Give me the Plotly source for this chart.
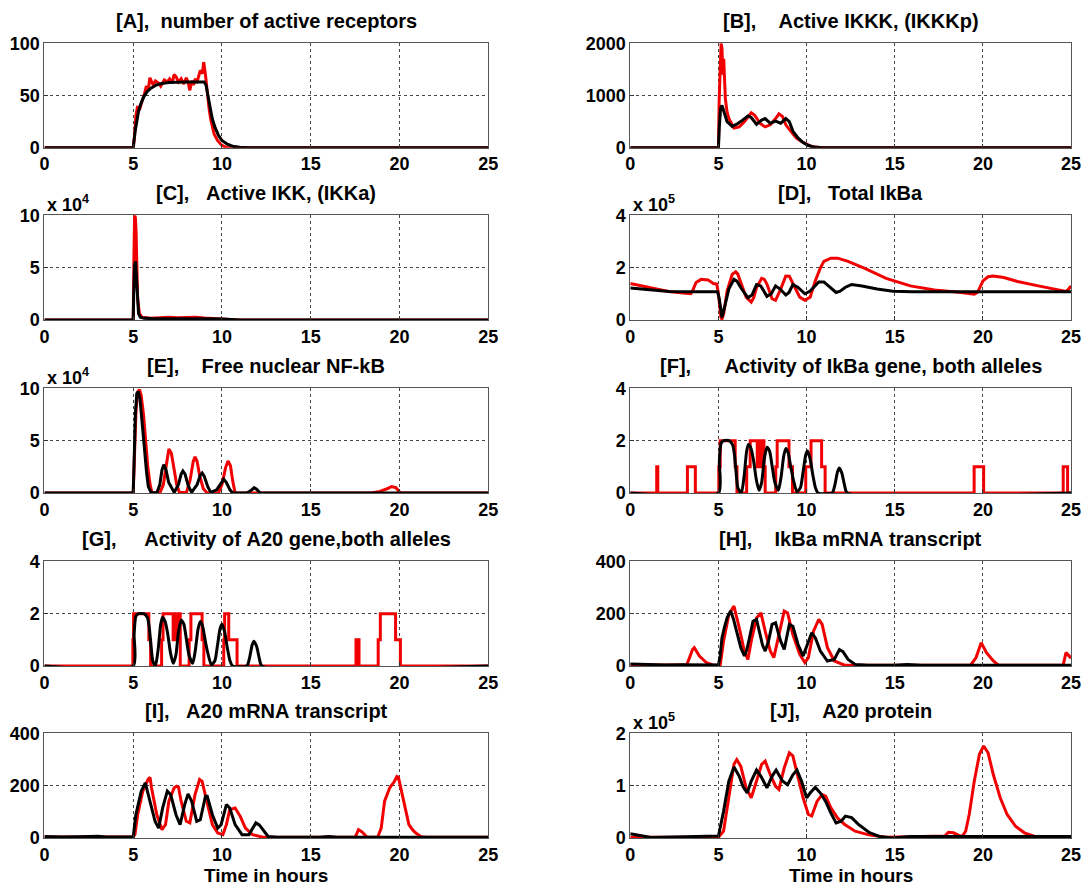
import plotly.graph_objects as go

# ---------------- data (time in hours) ----------------
A_red_t = [0, 5.0, 5.08, 5.15, 5.25, 5.35, 5.45, 5.55, 5.64, 5.74,
           5.85, 5.94, 6.05, 6.13, 6.25, 6.43, 6.55, 6.62, 6.75, 6.92,
           7.05, 7.2, 7.3, 7.41, 7.55, 7.7, 7.85, 7.99, 8.1, 8.19,
           8.3, 8.39, 8.5, 8.58, 8.7, 8.78, 8.9, 8.97, 9.07, 9.17,
           9.27, 9.37, 9.47, 9.56, 9.75, 9.95, 10.15, 10.34, 25]
A_red_v = [0, 0, 12, 31, 40, 36, 42, 47, 52, 59,
           56, 67, 63, 60, 64, 62, 59, 61, 65, 63,
           66, 62, 70, 68, 63, 66, 61, 67, 62, 55,
           64, 60, 66, 62, 68, 74, 71, 82, 70, 52,
           38, 27, 19, 13, 7, 3, 1, 0, 0]
A_blk_t = [0, 5.0, 5.1, 5.2, 5.3, 5.45, 5.6, 5.8, 6.0, 6.3,
           6.6, 7.0, 7.5, 8.0, 8.5, 9.0, 9.1, 9.2, 9.3, 9.45,
           9.6, 9.8, 10.0, 10.3, 10.6, 11.0, 11.5, 25]
A_blk_v = [0, 0, 15, 27, 35, 43, 49, 54, 57, 60,
           61.5, 62.5, 63, 63, 63, 63, 60, 50, 40, 28,
           20, 12, 7, 3.5, 1.5, 0.5, 0, 0]

B_red_t = [0, 5.0, 5.04, 5.1, 5.15, 5.2, 5.25, 5.3, 5.35, 5.39,
           5.48, 5.59, 5.88, 6.18, 6.47, 6.86, 7.06, 7.35, 7.65, 7.94,
           8.24, 8.43, 8.63, 8.82, 9.12, 9.41, 9.71, 10.0, 10.29, 10.8, 25]
B_red_v = [0, 0, 900, 1700, 2000, 1900, 1400, 1700, 1150, 950,
           700, 560, 380, 400, 500, 670, 620, 470, 400, 440,
           560, 650, 600, 440, 310, 190, 120, 75, 25, 0, 0]
B_blk_t = [0, 5.0, 5.05, 5.12, 5.2, 5.3, 5.49, 5.78, 6.08, 6.37,
           6.67, 6.86, 7.16, 7.45, 7.65, 7.94, 8.24, 8.53, 8.82, 9.02,
           9.22, 9.51, 9.8, 10.1, 10.4, 10.8, 11.2, 25]
B_blk_v = [0, 0, 400, 750, 810, 700, 500, 410, 460, 530,
           610, 580, 450, 530, 560, 470, 510, 470, 560, 500,
           320, 190, 100, 45, 15, 5, 0, 0]

C_red_t = [0, 5.0, 5.04, 5.08, 5.12, 5.16, 5.2, 5.25, 5.35, 5.5,
           6.0, 6.5, 7.0, 7.5, 8.0, 8.5, 9.0, 9.5, 10.0, 10.5, 11.0, 25]
C_red_v = [0, 0, 60000, 100000, 98000, 85000, 50000, 20000, 6000, 2500,
           1500, 2200, 2500, 2000, 2200, 2500, 1800, 1500, 1200, 700, 0, 0]
C_blk_t = [0, 5.0, 5.03, 5.08, 5.13, 5.18, 5.23, 5.3, 5.4, 5.6,
           6.0, 7.0, 8.0, 9.0, 10.0, 10.5, 11.0, 25]
C_blk_v = [0, 0, 25000, 52000, 56000, 42000, 20000, 6000, 2500, 1500,
           1300, 1400, 1300, 1100, 800, 400, 0, 0]

D_red_t = [0, 1.18, 2.16, 3.14, 3.43, 3.53, 3.63, 3.73, 4.02, 4.41,
           4.71, 4.9, 4.98, 5.06, 5.14, 5.2, 5.3, 5.49, 5.78, 5.98,
           6.1, 6.27, 6.57, 6.86, 7.0, 7.16, 7.45, 7.6, 7.75, 8.04,
           8.24, 8.53, 8.82, 9.02, 9.15, 9.31, 9.61, 9.9, 10.2, 10.49,
           10.78, 10.98, 11.37, 11.76, 12.35, 13.33, 14.51, 15.88, 17.25, 18.63,
           19.31, 19.51, 19.7, 19.85, 20.0, 20.29, 20.59, 21.18, 21.96, 23.14,
           24.12, 24.71, 24.86, 25]
D_red_v = [139000, 122000, 109000, 102000, 100000, 110000, 130000, 143000, 155000, 153000,
           139000, 137000, 110000, 50000, 10000, 2000, 25000, 110000, 174000, 184000,
           175000, 143000, 87000, 68000, 85000, 124000, 159000, 155000, 137000, 81000,
           75000, 118000, 168000, 167000, 150000, 124000, 87000, 75000, 87000, 149000,
           199000, 224000, 236000, 236000, 224000, 196000, 159000, 130000, 114000, 106000,
           100000, 98000, 106000, 125000, 149000, 165000, 168000, 162000, 147000, 130000,
           118000, 109000, 118000, 130000]
D_blk_t = [0, 1.0, 2.2, 3.5, 4.95, 5.05, 5.12, 5.2, 5.35, 5.6,
           5.88, 6.05, 6.3, 6.67, 6.9, 7.16, 7.4, 7.75, 8.0, 8.24,
           8.5, 8.82, 9.0, 9.22, 9.5, 9.9, 10.2, 10.69, 10.98, 11.3,
           11.67, 11.9, 12.2, 12.55, 13.14, 14.0, 14.9, 16, 25]
D_blk_v = [122000, 116000, 109000, 108000, 108000, 80000, 40000, 10000, 50000, 120000,
           155000, 148000, 120000, 85000, 95000, 135000, 130000, 90000, 100000, 130000,
           118000, 95000, 105000, 135000, 125000, 100000, 110000, 145000, 145000, 128000,
           105000, 110000, 125000, 135000, 130000, 118000, 110000, 108000, 108000]

E_red_t = [0, 5.0, 5.08, 5.16, 5.25, 5.35, 5.45, 5.58, 5.7, 5.82,
           5.95, 6.05, 6.5, 6.7, 6.85, 7.01, 7.15, 7.3, 7.45, 7.6,
           8.0, 8.2, 8.38, 8.48, 8.6, 8.75, 8.95, 9.17, 9.8, 10.0,
           10.2, 10.34, 10.48, 10.6, 10.74, 18.4, 18.9, 19.3, 19.55, 19.8,
           19.95, 20.05, 25]
E_red_v = [0, 0, 40000, 80000, 96000, 99000, 93000, 75000, 50000, 25000,
           8000, 500, 0, 8000, 25000, 42000, 38000, 22000, 8000, 500,
           500, 12000, 30000, 34500, 30000, 16000, 4000, 0, 0, 8000,
           24000, 30500, 26000, 12000, 0, 0, 1500, 4000, 6000, 5000,
           2000, 0, 0]
E_blk_t = [0, 3.2, 3.3, 3.4, 5.0, 5.05, 5.12, 5.2, 5.28, 5.38,
           5.5, 5.62, 5.75, 5.85, 6.0, 6.33, 6.5, 6.62, 6.72, 6.85,
           7.0, 7.31, 7.55, 7.7, 7.8, 7.92, 8.1, 8.29, 8.6, 8.78,
           8.88, 9.0, 9.2, 9.37, 9.7, 9.95, 10.1, 10.25, 10.45, 10.6,
           11.4, 11.65, 11.81, 11.95, 12.15, 25]
E_blk_v = [0, 0, 500, 0, 0, 30000, 75000, 95000, 97000, 90000,
           70000, 45000, 20000, 6000, 500, 0, 8000, 22000, 27000, 22000,
           10000, 500, 8000, 18000, 21000, 18000, 7000, 500, 8000, 17000,
           19000, 16000, 6000, 500, 3000, 10000, 13000, 10000, 3000, 0,
           0, 2500, 5000, 3500, 0, 0]

# gene activity (number of active alleles); red = stochastic, drawn as stairs
F_red_t = [0, 1.5, 1.56, 3.24, 3.69, 5.02, 5.1, 5.95, 6.05, 6.6,
           6.8, 7.2, 7.3, 7.4, 7.5, 7.58, 7.65, 8.25, 8.33, 9.0,
           9.2, 9.95, 10.25, 10.85, 11.05, 19.5, 20.04, 24.55, 24.8, 25]
F_red_v = [0, 1, 0, 1, 0, 1, 2, 1, 0, 1,
           2, 1, 2, 1, 2, 1, 0, 1, 2, 1,
           0, 1, 2, 1, 0, 1, 0, 1, 0, 0]
F_blk_t = [0, 5.0, 5.05, 5.15, 5.3, 5.6, 5.8, 5.9, 6.0, 6.1,
           6.3, 6.45, 6.6, 6.7, 6.85, 7.0, 7.15, 7.3, 7.45, 7.6,
           7.75, 7.9, 8.05, 8.2, 8.4, 8.55, 8.7, 8.82, 8.95, 9.1,
           9.25, 9.45, 9.65, 9.8, 9.95, 10.05, 10.2, 10.35, 10.5, 10.65,
           11.45, 11.6, 11.75, 11.86, 12.0, 12.15, 12.3, 25]
F_blk_v = [0, 0, 1.2, 1.9, 2.0, 2.0, 1.85, 1.5, 0.8, 0.2,
           0, 0.6, 1.6, 1.85, 1.7, 1.2, 0.5, 0.1, 0.4, 1.3,
           1.75, 1.6, 1.0, 0.4, 0.1, 0.6, 1.4, 1.7, 1.55, 1.0,
           0.5, 0.05, 0.2, 0.8, 1.45, 1.6, 1.3, 0.7, 0.2, 0,
           0, 0.3, 0.8, 0.95, 0.75, 0.3, 0, 0]

G_red_t = [0, 4.98, 5.02, 5.88, 5.98, 6.6, 6.68, 7.25, 7.32, 7.45,
           7.55, 7.65, 8.15, 8.25, 8.88, 8.98, 10.1, 10.15, 10.38, 10.85,
           17.55, 17.72, 18.8, 18.92, 19.78, 20.05, 25]
G_red_v = [0, 1, 2, 1, 0, 1, 2, 1, 2, 1,
           2, 0, 1, 2, 1, 0, 1, 2, 1, 0,
           1, 0, 1, 2, 1, 0, 0]
G_blk_t = [0, 5.0, 5.05, 5.15, 5.3, 5.6, 5.8, 5.9, 6.0, 6.1,
           6.25, 6.4, 6.55, 6.65, 6.8, 6.95, 7.1, 7.25, 7.4, 7.55,
           7.7, 7.85, 8.0, 8.15, 8.35, 8.5, 8.65, 8.78, 8.9, 9.05,
           9.2, 9.4, 9.6, 9.75, 9.9, 10.0, 10.15, 10.3, 10.45, 10.6,
           11.4, 11.55, 11.7, 11.8, 11.95, 12.1, 12.25, 25]
G_blk_v = [0, 0, 1.2, 1.9, 2.0, 2.0, 1.85, 1.5, 0.8, 0.2,
           0, 0.6, 1.6, 1.85, 1.7, 1.2, 0.5, 0.1, 0.4, 1.3,
           1.75, 1.6, 1.0, 0.4, 0.1, 0.6, 1.4, 1.7, 1.55, 1.0,
           0.5, 0.05, 0.2, 0.8, 1.45, 1.6, 1.3, 0.7, 0.2, 0,
           0, 0.3, 0.8, 0.95, 0.75, 0.3, 0, 0]

H_red_t = [0, 3.2, 3.35, 3.53, 3.63, 3.92, 4.31, 4.71, 5.1, 5.29,
           5.59, 5.88, 6.18, 6.47, 6.67, 6.86, 7.16, 7.41, 7.65, 7.94,
           8.14, 8.43, 8.73, 8.92, 9.22, 9.61, 9.9, 10.1, 10.39, 10.69,
           10.88, 11.18, 11.57, 12.16, 19.3, 19.61, 19.9, 20.2, 20.59, 20.88,
           24.55, 24.71, 24.9, 25]
H_red_v = [4, 4, 30, 63, 70, 38, 13, 3, 3, 95,
           197, 229, 146, 57, 25, 95, 184, 203, 133, 57,
           32, 120, 210, 203, 120, 44, 13, 32, 133, 178,
           159, 70, 19, 3, 3, 32, 89, 51, 19, 3,
           3, 51, 38, 30]
H_blk_t = [0, 1.0, 2.0, 3.0, 4.0, 5.0, 5.1, 5.2, 5.35, 5.49,
           5.69, 5.85, 5.98, 6.12, 6.27, 6.47, 6.6, 6.76, 6.96, 7.16,
           7.35, 7.5, 7.65, 7.84, 8.04, 8.24, 8.4, 8.53, 8.73, 8.88,
           9.02, 9.22, 9.37, 9.51, 9.8, 9.95, 10.1, 10.29, 10.49, 10.78,
           11.18, 11.57, 11.86, 12.06, 12.35, 12.75, 13.5, 15.0, 15.7, 16.5,
           25]
H_blk_v = [8, 5, 4, 5, 4, 4, 40, 108, 150, 184,
           210, 180, 146, 105, 70, 38, 60, 108, 171, 178,
           120, 80, 57, 95, 159, 165, 125, 95, 63, 110,
           159, 152, 115, 83, 38, 65, 95, 127, 108, 57,
           19, 25, 63, 55, 25, 6, 3, 3, 6, 3,
           3]

I_red_t = [0, 5.0, 5.1, 5.25, 5.54, 5.84, 5.95, 6.03, 6.33, 6.62,
           6.82, 7.01, 7.31, 7.45, 7.55, 7.7, 7.99, 8.19, 8.48, 8.74,
           8.88, 9.17, 9.46, 9.76, 10.05, 10.25, 10.44, 10.6, 10.74, 11.03,
           11.32, 11.72, 12.3, 17.5, 17.69, 17.89, 18.18, 18.77, 18.97, 19.16,
           19.45, 19.7, 19.85, 19.94, 20.14, 20.34, 20.53, 20.73, 20.92, 21.22,
           21.51, 25]
I_red_v = [4, 4, 15, 89, 179, 224, 232, 192, 89, 32,
           51, 141, 192, 198, 195, 141, 64, 58, 166, 224,
           217, 128, 51, 19, 13, 51, 109, 112, 115, 83,
           38, 13, 3, 3, 32, 23, 3, 3, 38, 141,
           192, 215, 235, 232, 166, 102, 51, 32, 19, 5,
           3, 3]
I_blk_t = [0, 1.0, 2.0, 3.0, 3.5, 5.0, 5.15, 5.3, 5.45, 5.68,
           5.8, 5.94, 6.23, 6.43, 6.66, 6.92, 7.11, 7.41, 7.64, 7.9,
           8.09, 8.29, 8.58, 8.78, 9.07, 9.17, 9.46, 9.76, 9.95, 10.25,
           10.44, 10.74, 11.13, 11.52, 11.75, 11.91, 12.1, 12.3, 12.6, 13.09,
           15.5, 16.0, 16.5, 25]
I_blk_v = [6, 4, 5, 7, 4, 4, 89, 140, 179, 211,
           180, 141, 64, 38, 115, 179, 166, 89, 51, 128,
           169, 141, 64, 70, 160, 160, 89, 38, 51, 128,
           115, 51, 13, 13, 40, 58, 50, 32, 6, 3,
           3, 6, 3, 3]

J_red_t = [0, 5.0, 5.29, 5.59, 5.88, 6.04, 6.27, 6.57, 6.86, 7.16,
           7.45, 7.65, 7.94, 8.24, 8.43, 8.73, 9.02, 9.22, 9.51, 9.8,
           10.1, 10.29, 10.59, 10.88, 11.08, 11.37, 11.76, 12.16, 12.75, 13.53,
           14.51, 17.84, 18.04, 18.33, 18.63, 18.82, 19.02, 19.22, 19.51, 19.8,
           20.04, 20.29, 20.59, 20.98, 21.37, 21.86, 22.35, 22.94, 25]
J_red_v = [1500, 1500, 13000, 77000, 141000, 150000, 137000, 96000, 77000, 109000,
           141000, 147000, 121000, 99000, 93000, 134000, 163000, 157000, 118000, 77000,
           45000, 42000, 70000, 83000, 80000, 58000, 38000, 26000, 13000, 6000,
           1500, 4000, 11000, 10000, 5000, 3000, 13000, 45000, 109000, 160000,
           176000, 163000, 121000, 77000, 45000, 22000, 10000, 3000, 1500]
J_blk_t = [0, 0.59, 1.18, 2.5, 4.0, 5.0, 5.29, 5.59, 5.88, 6.18,
           6.4, 6.63, 6.86, 7.16, 7.41, 7.75, 8.04, 8.27, 8.63, 8.92,
           9.22, 9.45, 9.71, 10.0, 10.2, 10.49, 10.78, 11.08, 11.37, 11.67,
           11.96, 12.2, 12.55, 12.94, 13.53, 14.12, 14.9, 15.88, 25]
J_blk_v = [8000, 5000, 1000, 2000, 4000, 4000, 51000, 109000, 136000, 118000,
           98000, 86000, 109000, 130000, 118000, 96000, 118000, 130000, 109000, 102000,
           121000, 130000, 109000, 77000, 86000, 97000, 86000, 70000, 48000, 29000,
           32000, 42000, 39000, 26000, 11000, 3000, 0, 3000, 3000]

TITLES = ["[A],  number of active receptors",
          "[B],    Active IKKK, (IKKKp)",
          "[C],   Active IKK, (IKKa)",
          "[D],   Total IkBa",
          "[E],    Free nuclear NF-kB",
          "[F],      Activity of IkBa gene, both alleles",
          "[G],     Activity of A20 gene,both alleles",
          "[H],    IkBa mRNA transcript",
          "[I],   A20 mRNA transcript",
          "[J],    A20 protein"]
Y_MAX = [100, 2000, 1e5, 4e5, 1e5, 4, 4, 400, 400, 2e5]
Y_TICKTEXT = [["0", "50", "100"], ["0", "1000", "2000"], ["0", "5", "10"],
              ["0", "2", "4"], ["0", "5", "10"], ["0", "2", "4"], ["0", "2", "4"],
              ["0", "200", "400"], ["0", "200", "400"], ["0", "1", "2"]]
Y_EXP = [None, None, "4", "5", "4", None, None, None, None, "5"]
X_TICKS = [0, 5, 10, 15, 20, 25]
X_LABEL = "Time in hours"

SERIES = [(A_red_t, A_red_v, A_blk_t, A_blk_v), (B_red_t, B_red_v, B_blk_t, B_blk_v),
          (C_red_t, C_red_v, C_blk_t, C_blk_v), (D_red_t, D_red_v, D_blk_t, D_blk_v),
          (E_red_t, E_red_v, E_blk_t, E_blk_v), (F_red_t, F_red_v, F_blk_t, F_blk_v),
          (G_red_t, G_red_v, G_blk_t, G_blk_v), (H_red_t, H_red_v, H_blk_t, H_blk_v),
          (I_red_t, I_red_v, I_blk_t, I_blk_v), (J_red_t, J_red_v, J_blk_t, J_blk_v)]
STAIRS = [False, False, False, False, False, True, True, False, False, False]

# ---------------- layout geometry (pixels) ----------------
W, H = 1090, 893
COL_X = [(40, 490), (634, 1081)]
ROW_TOP = [34, 210, 387, 564, 740]
ROW_H = 107
FONT = "Liberation Sans, Arial, Helvetica, sans-serif"
RED = "#f00000"
BLACK = "#000000"
TICK_SIZE = 18
TITLE_SIZE = 20

fig = go.Figure()
annotations = []
layout = {}
for i, (rt, rv, bt, bv) in enumerate(SERIES):
    if len(rt) != len(rv) or len(bt) != len(bv):
        raise ValueError(f"length mismatch in panel {i}")
    row, col = divmod(i, 2)
    n = "" if i == 0 else str(i + 1)
    xref, yref = "x" + n, "y" + n
    x0, x1 = COL_X[col][0] / W, COL_X[col][1] / W
    top = ROW_TOP[row]
    y1 = 1 - top / H
    y0 = 1 - (top + ROW_H) / H

    fig.add_trace(go.Scatter(x=rt, y=rv, mode="lines", xaxis=xref, yaxis=yref,
                             line=dict(color=RED, width=3,
                                       shape="hv" if STAIRS[i] else "linear"),
                             hoverinfo="skip", showlegend=False))
    fig.add_trace(go.Scatter(x=bt, y=bv, mode="lines", xaxis=xref, yaxis=yref,
                             line=dict(color=BLACK, width=3,
                                       shape="spline" if STAIRS[i] else "linear",
                                       smoothing=0.6 if STAIRS[i] else None),
                             hoverinfo="skip", showlegend=False))

    tick_font = dict(family=FONT, size=TICK_SIZE, color="black", weight="bold")
    common = dict(showline=True, mirror=True, linecolor="#555555", linewidth=1,
                  ticks="inside", ticklen=4, tickcolor="#333333",
                  showgrid=True, gridcolor="#444444", griddash="dot", gridwidth=1,
                  zeroline=False, tickfont=tick_font, fixedrange=True)
    layout["xaxis" + n] = dict(domain=[x0, x1], range=[0, 25], tickvals=X_TICKS,
                               ticktext=[str(v) for v in X_TICKS], anchor=yref, **common)
    ymax = Y_MAX[i]
    layout["yaxis" + n] = dict(domain=[y0, y1], range=[0, ymax],
                               tickvals=[0, ymax / 2, ymax], ticktext=Y_TICKTEXT[i],
                               anchor=xref, **common)

    annotations.append(dict(xref="paper", yref="paper", x=(x0 + x1) / 2,
                            y=1 - (top - 23) / H, text=TITLES[i].replace(" ", "\u00a0"),
                            showarrow=False, xanchor="center", yanchor="middle",
                            font=dict(family=FONT, size=TITLE_SIZE, color="black",
                                      weight="bold")))
    if Y_EXP[i]:
        annotations.append(dict(xref="paper", yref="paper", x=x0 + 1 / W,
                                y=1 - (top - 12) / H,
                                text="x\u00a010<sup>" + Y_EXP[i] + "</sup>",
                                showarrow=False, xanchor="left", yanchor="middle",
                                font=dict(family=FONT, size=TICK_SIZE, color="black",
                                          weight="bold")))

for col in range(2):
    x0, x1 = COL_X[col][0] / W, COL_X[col][1] / W
    annotations.append(dict(xref="paper", yref="paper", x=(x0 + x1) / 2, y=0,
                            yshift=-5, text=X_LABEL, showarrow=False,
                            xanchor="center", yanchor="bottom",
                            font=dict(family=FONT, size=19, color="black", weight="bold")))

fig.update_layout(width=W, height=H, margin=dict(l=0, r=0, t=0, b=0),
                  paper_bgcolor="white", plot_bgcolor="white", showlegend=False,
                  annotations=annotations, **layout)

fig.write_html("out.html", config={"displayModeBar": False})
